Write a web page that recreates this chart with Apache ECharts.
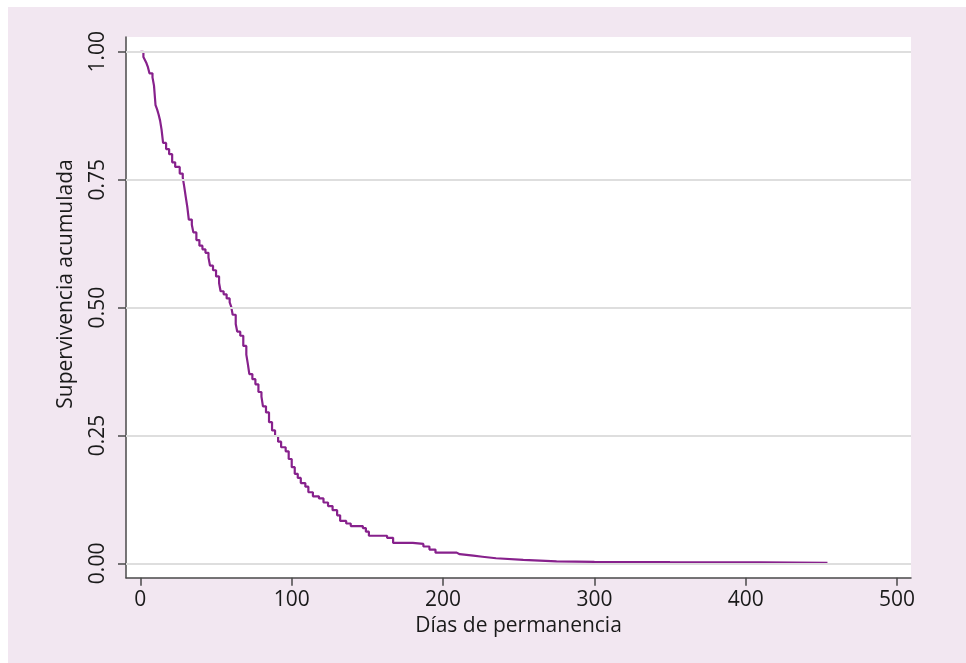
<!DOCTYPE html>
<html>
<head>
<meta charset="utf-8">
<script src="https://cdn.jsdelivr.net/npm/echarts@6/dist/echarts.min.js"></script>
<style>
html,body{margin:0;padding:0;background:#ffffff;}
#c{position:absolute;left:8px;top:7px;width:958px;height:656px;}
</style>
</head>
<body>
<div id="c"></div>
<script>
// Kaplan-Meier estimate: event times (days) and survival after each event
const days = [0,2,3,4,5,6,8,9,10,11,12,13,14,15,17,19,21,23,26,28,29,30,31,32,34,35,37,39,41,43,45,46,48,50,52,53,55,57,59,60,61,63,64,66,68,70,71,72,74,76,78,80,81,83,85,87,89,91,93,96,98,100,102,104,106,109,111,114,118,121,124,127,130,132,136,139,147,149,151,163,167,180,187,191,195,209,211,220,226,235,253,275,300,350,410,454];
const survival = [1.000,0.990,0.984,0.978,0.970,0.958,0.950,0.934,0.896,0.888,0.878,0.866,0.848,0.822,0.810,0.800,0.784,0.775,0.762,0.754,0.736,0.716,0.697,0.672,0.662,0.647,0.632,0.621,0.614,0.607,0.598,0.582,0.573,0.561,0.548,0.532,0.526,0.518,0.510,0.502,0.486,0.468,0.453,0.445,0.425,0.408,0.390,0.370,0.360,0.350,0.335,0.326,0.307,0.295,0.276,0.260,0.249,0.238,0.227,0.219,0.204,0.188,0.175,0.167,0.157,0.150,0.139,0.131,0.127,0.119,0.112,0.104,0.094,0.083,0.078,0.073,0.069,0.062,0.054,0.050,0.040,0.038,0.033,0.027,0.021,0.018,0.015,0.013,0.010,0.007,0.004,0.003,0.0025,0.002,0.001,0.001];
const xTicks = [0,100,200,300,400,500];
const yTicks = [0,0.25,0.5,0.75,1];
const xTitle = 'Días de permanencia';
const yTitle = 'Supervivencia acumulada';

const FONT = '"Open Sans", "Noto Sans", sans-serif';
const axisCol = '#4a4a4a';
const chart = echarts.init(document.getElementById('c'), null, {renderer:'canvas'});
const pts = days.map((d,i)=>[d, survival[i]]);
chart.setOption({
  backgroundColor:'#f2e7f1',
  animation:false,
  grid:{left:118, top:30, width:785, height:540.7, show:true, backgroundColor:'#ffffff', borderWidth:0},
  graphic:[{
    type:'text', x:58, y:277, rotation:Math.PI/2,
    style:{text:yTitle, fill:'#1a1a1a', font:'21px ' + FONT, align:'center', verticalAlign:'middle'}
  }],
  xAxis:{
    type:'value', min:-9.5, max:509.2,
    name:xTitle, nameLocation:'middle', nameGap:38,
    nameTextStyle:{fontFamily:FONT, fontSize:21, color:'#1a1a1a'},
    axisLine:{show:true, onZero:false, lineStyle:{color:axisCol, width:1.5}},
    axisTick:{show:true, length:8, customValues:xTicks, lineStyle:{color:axisCol, width:1.5}},
    axisLabel:{customValues:xTicks, margin:12, fontFamily:FONT, fontSize:21, color:'#1a1a1a'},
    splitLine:{show:false}
  },
  yAxis:{
    type:'value', min:-0.028, max:1.029,
    axisLine:{show:true, onZero:false, lineStyle:{color:axisCol, width:1.5}},
    axisTick:{show:true, length:8, customValues:yTicks, lineStyle:{color:axisCol, width:1.5}},
    axisLabel:{customValues:yTicks, rotate:90, margin:17, fontFamily:FONT, fontSize:21, color:'#1a1a1a',
      formatter:v=>v.toFixed(2)},
    splitLine:{show:false}
  },
  series:[
    {
      type:'line', data:[], z:1, silent:true,
      markLine:{silent:true, symbol:'none', label:{show:false},
        lineStyle:{color:'#dedede', width:2, type:'solid'},
        data:yTicks.map(v=>({yAxis:v}))}
    },
    {
      type:'line', data:pts, step:'end', showSymbol:false, z:3,
      lineStyle:{color:'#87218c', width:2.2}
    }
  ]
});
</script>
</body>
</html>
